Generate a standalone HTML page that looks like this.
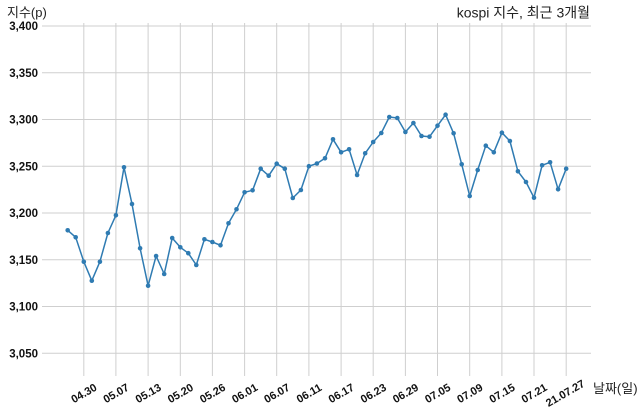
<!DOCTYPE html>
<html><head><meta charset="utf-8"><style>
html,body{margin:0;padding:0;background:#fff;}
svg{display:block;}
.tk{font-family:"Liberation Sans","Noto Sans CJK KR",sans-serif;font-weight:bold;font-size:11.5px;fill:#111;}
.xt{font-family:"Liberation Sans","Noto Sans CJK KR",sans-serif;font-weight:bold;font-size:11px;fill:#111;}
.lb{font-family:"Liberation Sans","Noto Sans CJK KR",sans-serif;font-size:13px;fill:#222;}
</style></head><body>
<svg width="640" height="418" viewBox="0 0 640 418" xmlns="http://www.w3.org/2000/svg">
<rect width="640" height="418" fill="#fff"/>
<g stroke="#cfcfcf" stroke-width="1">
<line x1="42" x2="591" y1="26" y2="26"/>
<line x1="42" x2="591" y1="72.8" y2="72.8"/>
<line x1="42" x2="591" y1="119.5" y2="119.5"/>
<line x1="42" x2="591" y1="166.3" y2="166.3"/>
<line x1="42" x2="591" y1="213" y2="213"/>
<line x1="42" x2="591" y1="259.8" y2="259.8"/>
<line x1="42" x2="591" y1="306.5" y2="306.5"/>
<line x1="42" x2="591" y1="353.3" y2="353.3"/>
<line y1="23" y2="376" x1="83.8" x2="83.8"/>
<line y1="23" y2="376" x1="115.9" x2="115.9"/>
<line y1="23" y2="376" x1="148.1" x2="148.1"/>
<line y1="23" y2="376" x1="180.3" x2="180.3"/>
<line y1="23" y2="376" x1="212.4" x2="212.4"/>
<line y1="23" y2="376" x1="244.6" x2="244.6"/>
<line y1="23" y2="376" x1="276.7" x2="276.7"/>
<line y1="23" y2="376" x1="308.9" x2="308.9"/>
<line y1="23" y2="376" x1="341.1" x2="341.1"/>
<line y1="23" y2="376" x1="373.2" x2="373.2"/>
<line y1="23" y2="376" x1="405.4" x2="405.4"/>
<line y1="23" y2="376" x1="437.5" x2="437.5"/>
<line y1="23" y2="376" x1="469.7" x2="469.7"/>
<line y1="23" y2="376" x1="501.9" x2="501.9"/>
<line y1="23" y2="376" x1="534.0" x2="534.0"/>
<line y1="23" y2="376" x1="566.2" x2="566.2"/>
</g>
<g class="tk" text-anchor="end">
<text x="38" y="30">3,400</text>
<text x="38" y="76.8">3,350</text>
<text x="38" y="123.5">3,300</text>
<text x="38" y="170.3">3,250</text>
<text x="38" y="217">3,200</text>
<text x="38" y="263.8">3,150</text>
<text x="38" y="310.5">3,100</text>
<text x="38" y="357.3">3,050</text>
</g>
<g class="xt" text-anchor="middle">
<text transform="translate(83.8,393) rotate(-30)" y="4">04.30</text>
<text transform="translate(115.9,393) rotate(-30)" y="4">05.07</text>
<text transform="translate(148.1,393) rotate(-30)" y="4">05.13</text>
<text transform="translate(180.3,393) rotate(-30)" y="4">05.20</text>
<text transform="translate(212.4,393) rotate(-30)" y="4">05.26</text>
<text transform="translate(244.6,393) rotate(-30)" y="4">06.01</text>
<text transform="translate(276.7,393) rotate(-30)" y="4">06.07</text>
<text transform="translate(308.9,393) rotate(-30)" y="4">06.11</text>
<text transform="translate(341.1,393) rotate(-30)" y="4">06.17</text>
<text transform="translate(373.2,393) rotate(-30)" y="4">06.23</text>
<text transform="translate(405.4,393) rotate(-30)" y="4">06.29</text>
<text transform="translate(437.5,393) rotate(-30)" y="4">07.05</text>
<text transform="translate(469.7,393) rotate(-30)" y="4">07.09</text>
<text transform="translate(501.9,393) rotate(-30)" y="4">07.15</text>
<text transform="translate(534.0,393) rotate(-30)" y="4">07.21</text>
<text transform="translate(565,393) rotate(-30)" y="4">21.07.27</text>
</g>
<text class="lb" x="7" y="17">지수(p)</text>
<text class="lb" x="593" y="393">날짜(일)</text>
<text class="lb" x="590" y="17.5" text-anchor="end" style="font-size:14px">kospi 지수, 최근 3개월</text>
<polyline fill="none" stroke="#2f7bb2" stroke-width="1.5" stroke-linejoin="round" points="67.7,230.3 75.7,237.3 83.8,261.7 91.8,280.7 99.9,261.7 107.9,233 115.9,215.3 124.0,167.3 132.0,204 140.1,248.3 148.1,285.7 156.1,256 164.2,274 172.2,238 180.3,247.3 188.3,253.2 196.3,265 204.4,239.3 212.4,242 220.5,245.3 228.5,223.3 236.5,209.3 244.6,192.3 252.6,190.3 260.7,168.7 268.7,175.7 276.7,163.7 284.8,168.7 292.8,198 300.9,190 308.9,166.2 316.9,163.5 325.0,158.3 333.0,139.3 341.1,152.3 349.1,149.3 357.1,175 365.2,153.3 373.2,142 381.3,133 389.3,117 397.3,118 405.4,132 413.4,123 421.5,136 429.5,136.7 437.5,125.7 445.6,114.7 453.6,133.3 461.7,164.3 469.7,196 477.7,170 485.8,145.7 493.8,152.3 501.9,132.7 509.9,141 517.9,171.3 526.0,182 534.0,197.7 542.1,165.3 550.1,162.3 558.1,189.3 566.2,168.7"/>
<g fill="#2f7bb2">
<circle cx="67.7" cy="230.3" r="2.3"/><circle cx="75.7" cy="237.3" r="2.3"/><circle cx="83.8" cy="261.7" r="2.3"/><circle cx="91.8" cy="280.7" r="2.3"/><circle cx="99.9" cy="261.7" r="2.3"/><circle cx="107.9" cy="233" r="2.3"/><circle cx="115.9" cy="215.3" r="2.3"/><circle cx="124.0" cy="167.3" r="2.3"/><circle cx="132.0" cy="204" r="2.3"/><circle cx="140.1" cy="248.3" r="2.3"/><circle cx="148.1" cy="285.7" r="2.3"/><circle cx="156.1" cy="256" r="2.3"/><circle cx="164.2" cy="274" r="2.3"/><circle cx="172.2" cy="238" r="2.3"/><circle cx="180.3" cy="247.3" r="2.3"/><circle cx="188.3" cy="253.2" r="2.3"/><circle cx="196.3" cy="265" r="2.3"/><circle cx="204.4" cy="239.3" r="2.3"/><circle cx="212.4" cy="242" r="2.3"/><circle cx="220.5" cy="245.3" r="2.3"/><circle cx="228.5" cy="223.3" r="2.3"/><circle cx="236.5" cy="209.3" r="2.3"/><circle cx="244.6" cy="192.3" r="2.3"/><circle cx="252.6" cy="190.3" r="2.3"/><circle cx="260.7" cy="168.7" r="2.3"/><circle cx="268.7" cy="175.7" r="2.3"/><circle cx="276.7" cy="163.7" r="2.3"/><circle cx="284.8" cy="168.7" r="2.3"/><circle cx="292.8" cy="198" r="2.3"/><circle cx="300.9" cy="190" r="2.3"/><circle cx="308.9" cy="166.2" r="2.3"/><circle cx="316.9" cy="163.5" r="2.3"/><circle cx="325.0" cy="158.3" r="2.3"/><circle cx="333.0" cy="139.3" r="2.3"/><circle cx="341.1" cy="152.3" r="2.3"/><circle cx="349.1" cy="149.3" r="2.3"/><circle cx="357.1" cy="175" r="2.3"/><circle cx="365.2" cy="153.3" r="2.3"/><circle cx="373.2" cy="142" r="2.3"/><circle cx="381.3" cy="133" r="2.3"/><circle cx="389.3" cy="117" r="2.3"/><circle cx="397.3" cy="118" r="2.3"/><circle cx="405.4" cy="132" r="2.3"/><circle cx="413.4" cy="123" r="2.3"/><circle cx="421.5" cy="136" r="2.3"/><circle cx="429.5" cy="136.7" r="2.3"/><circle cx="437.5" cy="125.7" r="2.3"/><circle cx="445.6" cy="114.7" r="2.3"/><circle cx="453.6" cy="133.3" r="2.3"/><circle cx="461.7" cy="164.3" r="2.3"/><circle cx="469.7" cy="196" r="2.3"/><circle cx="477.7" cy="170" r="2.3"/><circle cx="485.8" cy="145.7" r="2.3"/><circle cx="493.8" cy="152.3" r="2.3"/><circle cx="501.9" cy="132.7" r="2.3"/><circle cx="509.9" cy="141" r="2.3"/><circle cx="517.9" cy="171.3" r="2.3"/><circle cx="526.0" cy="182" r="2.3"/><circle cx="534.0" cy="197.7" r="2.3"/><circle cx="542.1" cy="165.3" r="2.3"/><circle cx="550.1" cy="162.3" r="2.3"/><circle cx="558.1" cy="189.3" r="2.3"/><circle cx="566.2" cy="168.7" r="2.3"/>
</g>
</svg>
</body></html>
